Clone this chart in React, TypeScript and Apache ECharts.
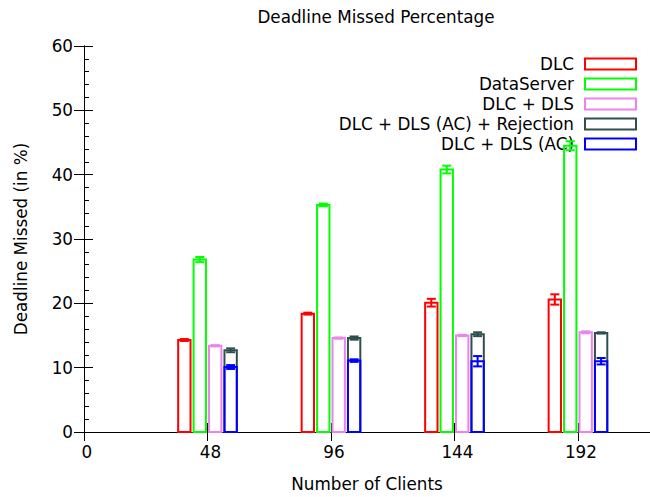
import React, { useEffect, useRef } from "react";
import * as echarts from "echarts";

// Client counts on the x axis
const clients = [48, 96, 144, 192];

// Series names, in legend order
const seriesNames = [
  "DLC",
  "DataServer",
  "DLC + DLS",
  "DLC + DLS (AC) + Rejection",
  "DLC + DLS (AC)",
];

// Deadline missed percentages and their error margins
const dlc = [14.3, 18.4, 20.1, 20.6];
const dlcErr = [0.15, 0.15, 0.6, 0.8];
const dataServer = [26.8, 35.3, 40.8, 44.5];
const dataServerErr = [0.4, 0.2, 0.6, 0.7];
const dlcDls = [13.4, 14.6, 15.0, 15.5];
const dlcDlsErr = [0.1, 0.1, 0.1, 0.15];
const dlcDlsAcRej = [12.7, 14.6, 15.2, 15.4];
const dlcDlsAcRejErr = [0.3, 0.25, 0.3, 0.1];
const dlcDlsAc = [10.1, 11.1, 11.0, 11.0];
const dlcDlsAcErr = [0.3, 0.2, 0.8, 0.5];

const seriesValues = [dlc, dataServer, dlcDls, dlcDlsAcRej, dlcDlsAc];
const seriesErrors = [dlcErr, dataServerErr, dlcDlsErr, dlcDlsAcRejErr, dlcDlsAcErr];

// Box offset from the client count (x units); the last two share a slot
const boxOffsets = [-9, -3, 3, 9, 9];
const colors = ["#ff0000", "#00ff00", "#ee82ee", "#2f4f4f", "#0000ff"];

const yTicks = [0, 10, 20, 30, 40, 50, 60];
const xTicks = [0, 48, 96, 144, 192];

const X_MIN = 0;
const X_MAX = 220;
// tick labels sit a little right of their ticks
const LABEL_SHIFT = 1.15;

const BOX_WIDTH = 4.8;
const CAP_HALF = 4.5;
const FONT = "DejaVu Sans";
const FONT_SIZE = 16.8;

function renderBox(color: string) {
  return (params: any, api: any) => {
    const x = api.value(0);
    const y = api.value(1);
    const e = api.value(2);
    const bl = api.coord([x - BOX_WIDTH / 2, 0]);
    const tr = api.coord([x + BOX_WIDTH / 2, y]);
    const children: any[] = [
      {
        type: "rect",
        shape: { x: bl[0], y: tr[1], width: tr[0] - bl[0], height: bl[1] - tr[1] },
        style: { fill: "none", stroke: color, lineWidth: 2 },
      },
    ];
    if (e > 0) {
      const top = api.coord([x, y + e]);
      const bot = api.coord([x, y - e]);
      const cx = top[0];
      const line = (x1: number, y1: number, x2: number, y2: number) => ({
        type: "line",
        shape: { x1, y1, x2, y2 },
        style: { stroke: color, lineWidth: 2 },
      });
      children.push(line(cx, top[1], cx, bot[1]));
      children.push(line(cx - CAP_HALF, top[1], cx + CAP_HALF, top[1]));
      children.push(line(cx - CAP_HALF, bot[1], cx + CAP_HALF, bot[1]));
    }
    return { type: "group", children };
  };
}

export default function App() {
  const ref = useRef<HTMLDivElement>(null);

  useEffect(() => {
    if (!ref.current) return;
    const chart = echarts.init(ref.current, null, { renderer: "svg" });

    const series = seriesNames.map((name, i) => ({
      name,
      type: "custom",
      xAxisIndex: 0,
      yAxisIndex: 0,
      data: clients.map((c, j) => [c + boxOffsets[i], seriesValues[i][j], seriesErrors[i][j]]),
      renderItem: renderBox(colors[i]),
      z: 3,
    }));

    // Key in the top right corner
    const legendItems: any[] = [];
    seriesNames.forEach((name, i) => {
      const cy = 64 + i * 20;
      legendItems.push({
        type: "text",
        x: 574,
        y: cy,
        style: {
          text: name,
          fill: "#000",
          font: `${FONT_SIZE}px '${FONT}'`,
          align: "right",
          verticalAlign: "middle",
        },
      });
      legendItems.push({
        type: "rect",
        shape: { x: 585, y: cy - 5.5, width: 51, height: 11 },
        style: { fill: "none", stroke: colors[i], lineWidth: 2 },
      });
    });

    const axisTextStyle = { color: "#000", fontSize: FONT_SIZE, fontFamily: FONT };
    const hidden = { show: false };

    chart.setOption({
      animation: false,
      backgroundColor: "#fff",
      textStyle: { fontFamily: FONT },
      title: {
        text: "Deadline Missed Percentage",
        left: 371,
        top: 3,
        textAlign: "center",
        textStyle: { color: "#000", fontSize: FONT_SIZE, fontWeight: "normal", fontFamily: FONT },
      },
      grid: { left: 84, top: 46, width: 574, height: 387 },
      xAxis: [
        {
          type: "value",
          position: "bottom",
          min: X_MIN,
          max: X_MAX,
          name: "Number of Clients",
          nameLocation: "middle",
          nameGap: 43,
          nameTextStyle: axisTextStyle,
          axisLine: { show: true, lineStyle: { color: "#000", width: 1 } },
          axisTick: { show: true, inside: true, length: 9, customValues: xTicks, lineStyle: { color: "#000" } },
          axisLabel: hidden,
          splitLine: hidden,
        },
        {
          type: "value",
          position: "top",
          min: X_MIN,
          max: X_MAX,
          axisLine: { show: true, lineStyle: { color: "#000", width: 1 } },
          axisTick: { show: true, inside: true, length: 9, customValues: xTicks, lineStyle: { color: "#000" } },
          axisLabel: hidden,
          splitLine: hidden,
        },
        {
          // carries the bottom tick labels
          type: "value",
          position: "bottom",
          min: X_MIN - LABEL_SHIFT,
          max: X_MAX - LABEL_SHIFT,
          axisLine: hidden,
          axisTick: hidden,
          axisLabel: { show: true, customValues: xTicks, margin: 11, ...axisTextStyle },
          splitLine: hidden,
        },
      ],
      yAxis: [
        {
          type: "value",
          position: "left",
          min: 0,
          max: 60,
          interval: 10,
          name: "Deadline Missed (in %)",
          nameLocation: "middle",
          nameGap: 55,
          nameTextStyle: axisTextStyle,
          axisLine: { show: true, lineStyle: { color: "#000", width: 1 } },
          axisTick: { show: true, inside: true, length: 9, customValues: yTicks, lineStyle: { color: "#000" } },
          minorTick: { show: true, splitNumber: 5, length: 5, lineStyle: { color: "#000" } },
          axisLabel: { show: true, customValues: yTicks, margin: 11, ...axisTextStyle },
          splitLine: hidden,
          minorSplitLine: hidden,
        },
        {
          type: "value",
          position: "right",
          min: 0,
          max: 60,
          interval: 10,
          axisLine: { show: true, lineStyle: { color: "#000", width: 1 } },
          axisTick: { show: true, inside: true, length: 10, lineStyle: { color: "#000" } },
          axisLabel: hidden,
          splitLine: hidden,
        },
      ],
      series,
      graphic: legendItems,
    });

    return () => chart.dispose();
  }, []);

  return (
    <div
      ref={ref}
      style={{ position: "fixed", left: 0, top: 0, width: 650, height: 497, background: "#fff" }}
    />
  );
}
